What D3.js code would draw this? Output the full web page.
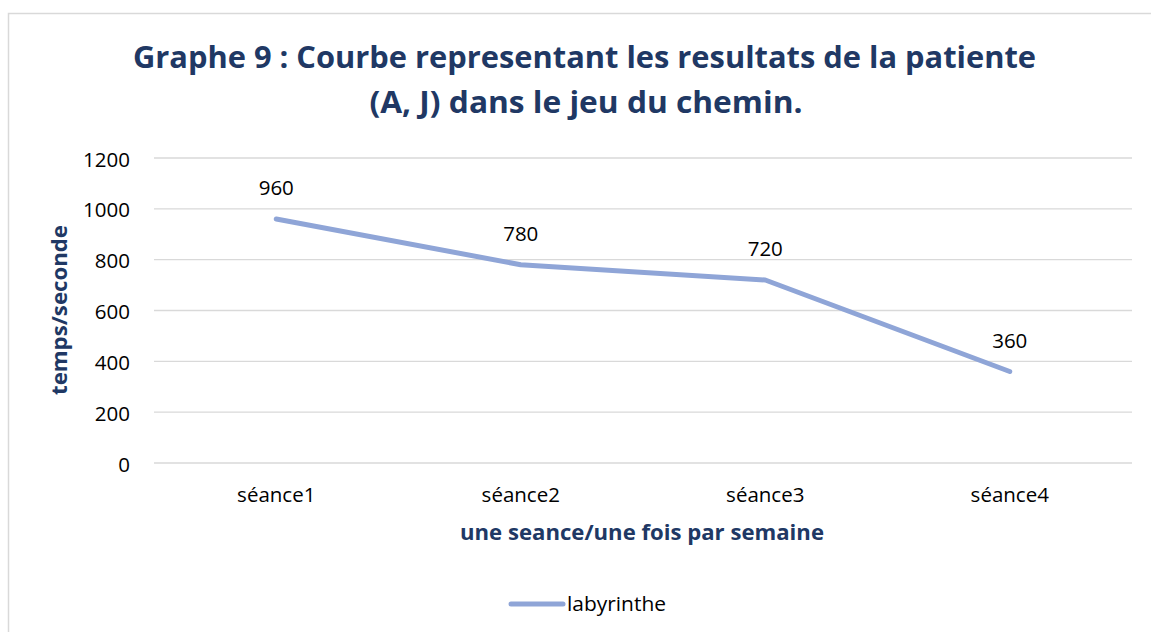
<!DOCTYPE html>
<html><head><meta charset="utf-8">
<script src="https://cdn.jsdelivr.net/npm/d3@7/dist/d3.min.js"></script>
<style>body{margin:0;background:#fff}svg{display:block}</style>
</head><body>
<svg id="c" width="1151" height="632"></svg>
<script>
const categories = ["séance1", "séance2", "séance3", "séance4"];
const values = [960, 780, 720, 360];
const yTicks = [0, 200, 400, 600, 800, 1000, 1200];
const seriesName = "labyrinthe";
const titleLines = ["Graphe 9 : Courbe representant les resultats de la patiente", "(A, J) dans le jeu du chemin."];
const yTitle = "temps/seconde";
const xTitle = "une seance/une fois par semaine";

(function () {
const svg = d3.select("#c");
const font = "'Open Sans', 'Liberation Sans', sans-serif";
const navy = "#203864";
const lineColor = "#8FA5D7";
const fs = 20.5;

// chart border
svg.append("rect").attr("x", 8.5).attr("y", 13.5).attr("width", 1160).attr("height", 640)
  .attr("fill", "none").attr("stroke", "#d9d9d9").attr("stroke-width", 1.5);

const pL = 154, pR = 1132, pT = 158, pB = 463;
const x = d3.scaleBand().domain(categories).range([pL, pR]);
const y = d3.scaleLinear().domain([0, 1200]).range([pB, pT]);

function fit(sel, w) {
  const n = sel.node();
  const L = n.getComputedTextLength();
  if (L > 0) sel.attr("textLength", w).attr("lengthAdjust", "spacingAndGlyphs");
}

// gridlines
svg.append("g").selectAll("line").data(yTicks).join("line")
  .attr("x1", pL).attr("x2", pR)
  .attr("y1", d => y(d)).attr("y2", d => y(d))
  .attr("stroke", "#d9d9d9").attr("stroke-width", 1.3);

// y axis labels
const yAxis = d3.axisLeft(y).tickValues(yTicks).tickFormat(d3.format("d")).tickSize(0).tickPadding(0);
const gy = svg.append("g").attr("transform", `translate(130,0)`).call(yAxis);
gy.select(".domain").remove();
gy.attr("font-family", null).attr("font-size", null);
gy.selectAll("text").attr("font-family", font).attr("font-size", fs).attr("fill", "#000")
  .attr("dy", null).attr("y", 8);

// x axis labels
const xAxis = d3.axisBottom(x).tickSize(0).tickPadding(0);
const gx = svg.append("g").attr("transform", `translate(0,${pB})`).call(xAxis);
gx.select(".domain").remove();
gx.attr("font-family", null).attr("font-size", null);
gx.selectAll("text").attr("font-family", font).attr("font-size", fs).attr("fill", "#000")
  .attr("dy", null).attr("y", 39);

// line
const line = d3.line().x((d, i) => x(categories[i]) + x.bandwidth() / 2).y(d => y(d));
svg.append("path").datum(values).attr("d", line)
  .attr("fill", "none").attr("stroke", lineColor).attr("stroke-width", 5)
  .attr("stroke-linecap", "round").attr("stroke-linejoin", "round");

// data labels
svg.append("g").selectAll("text").data(values).join("text")
  .attr("x", (d, i) => x(categories[i]) + x.bandwidth() / 2)
  .attr("y", d => y(d) - 24)
  .attr("text-anchor", "middle").attr("font-family", font).attr("font-size", fs).attr("fill", "#000")
  .text(d => d);

// title
const tX = [584.5, 586], tY = [68, 113], tW = [903, 433];
titleLines.forEach((t, i) => {
  const el = svg.append("text").attr("x", tX[i]).attr("y", tY[i])
    .attr("text-anchor", "middle").attr("font-family", font).attr("font-weight", "bold")
    .attr("font-size", 30.5).attr("fill", navy).text(t);
  fit(el, tW[i]);
});

// y title
const yt = svg.append("text").attr("transform", "translate(67,310) rotate(-90)")
  .attr("text-anchor", "middle").attr("font-family", font).attr("font-weight", "bold")
  .attr("font-size", 21).attr("fill", navy).text(yTitle);
fit(yt, 170);

// x title
const xt = svg.append("text").attr("x", 642).attr("y", 540)
  .attr("text-anchor", "middle").attr("font-family", font).attr("font-weight", "bold")
  .attr("font-size", 21).attr("fill", navy).text(xTitle);
fit(xt, 364);

// legend
svg.append("line").attr("x1", 511).attr("x2", 563).attr("y1", 604).attr("y2", 604)
  .attr("stroke", lineColor).attr("stroke-width", 5).attr("stroke-linecap", "round");
const lt = svg.append("text").attr("x", 567).attr("y", 611)
  .attr("font-family", font).attr("font-size", fs).attr("fill", "#000").text(seriesName);
fit(lt, 99);
})();
</script>
</body></html>
